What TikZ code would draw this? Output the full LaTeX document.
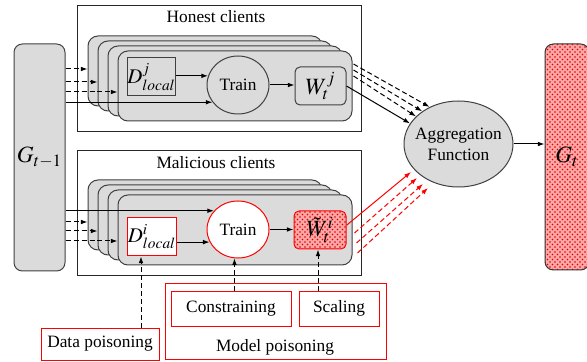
\documentclass[tikz,border=0pt]{standalone}
\usepackage{mathptmx}
\usepackage{fontspec}
\setmainfont{Liberation Serif}
\newfontfamily\tnr{Liberation Serif}
\usetikzlibrary{arrows.meta,shapes.geometric,patterns,calc}
\begin{document}
\begin{tikzpicture}[x=0.6pt,y=-0.6pt,
  every node/.style={font=\tnr\fontsize{10.4pt}{12.5pt}\selectfont},
  card/.style={draw=black!75, fill=black!14, rounded corners=6pt, minimum width=140.4pt, minimum height=42pt, inner sep=0pt, line width=0.6pt},
  group/.style={draw=black!85, line width=0.6pt, minimum width=170.4pt, inner sep=0pt},
  gbox/.style={draw=black!75, fill=black!14, line width=0.6pt, inner sep=0pt},
  rbox/.style={draw=red, line width=0.6pt, fill=white, inner sep=0pt},
  redpat/.style={preaction={fill=red!35}, pattern=crosshatch dots, pattern color=red!85!black},
  arr/.style={-{Latex[length=4pt,width=2.8pt]}, line width=0.6pt},
  dsh/.style={dash pattern=on 3pt off 1.8pt},
  bigm/.style={font=\fontsize{14pt}{16pt}\selectfont},
  midm/.style={font=\fontsize{12.5pt}{14pt}\selectfont}]
\useasboundingbox (0,0) rectangle (587,362);

% global model G_{t-1}
\node[gbox, rounded corners=5pt, minimum width=30.6pt, minimum height=136.2pt, bigm] (G) at (39.5,157.5) {$G_{t-1}$};

% honest clients
\node[group, minimum height=75.6pt] (hon) at (219,69) {};
\node (hont) at (216,17) {Honest clients};
\foreach \k in {0,...,3} \node[card] (Lh\k) at ({205+10*\k},{71+5*\k}) {};
\node[gbox, minimum width=28.2pt, minimum height=22.8pt, midm] (Dh) at (151.5,77) {$D^{j}_{local}$};
\node[gbox, ellipse, minimum width=37.2pt, minimum height=34.8pt] (Th) at (238,85) {Train};
\node[gbox, rounded corners=3pt, minimum width=30.6pt, minimum height=22.8pt, bigm] (Wh) at (320.5,86) {$W^{j}_{t}$};

% malicious clients
\node[group, minimum height=75pt] (mal) at (219,213.5) {};
\node (malt) at (216,163) {Malicious clients};
\foreach \k in {0,...,3} \node[card] (Lm\k) at ({205+10*\k},{215+5*\k}) {};
\node[rbox, minimum width=26.4pt, minimum height=22.8pt, midm] (Dm) at (152,237) {$D^{i}_{local}$};
\node[rbox, ellipse, minimum width=37.2pt, minimum height=34.2pt] (Tm) at (238,229.5) {Train};
\node[draw=red, line width=0.6pt, inner sep=0pt, rounded corners=3pt, redpat, minimum width=31.2pt, minimum height=22.8pt, bigm] (Wm) at (320,230) {$\tilde{W}^{i}_{t}$};

% aggregation and new global model
\node[gbox, ellipse, minimum width=65.4pt, minimum height=51.6pt,
  label={[align=center, font=\tnr\fontsize{10.4pt}{12.5pt}\selectfont]center:Aggregation\\Function}] (Agg) at (458.5,144) {};
\node[draw=black!80, line width=0.6pt, inner sep=0pt, rounded corners=5pt, redpat, minimum width=26.4pt, minimum height=135.6pt, bigm] (Gt) at (567,157) {$G_{t}$};

% poisoning boxes
\node[rbox, fill=none, minimum width=132.6pt, minimum height=45.6pt] (MP) at (275.5,321) {};
\node (MPt) at (275,347) {Model poisoning};
\node[rbox, minimum width=72pt, minimum height=21pt] (Con) at (231,308.5) {Constraining};
\node[rbox, minimum width=48pt, minimum height=21pt] (Sc) at (339,308.5) {Scaling};
\node[rbox, minimum width=70.8pt, minimum height=19.2pt] (Dp) at (100,344) {Data poisoning};

% helper coordinates
\coordinate (yh1) at (0,69);
\coordinate (yh2) at (0,82);
\coordinate (yh3) at (0,92);
\coordinate (ym1) at (0,222);
\coordinate (ym2) at (0,231);
\coordinate (ym3) at (0,241);
\coordinate (cx1) at (141,0);
\coordinate (cx3) at (318,0);
\coordinate (ra0) at (411,172);
\coordinate (ra1) at (417,178);
\coordinate (ra2) at (423,184);
\coordinate (ra3) at (428,188);

% G_{t-1} to honest clients
\draw[arr,dsh] (G.east |- yh1) -- (Lh0.west |- yh1);
\draw[arr,dsh] (G.east |- yh2) -- (Lh1.west |- yh2);
\draw[arr,dsh] (G.east |- yh3) -- (Lh3.west |- yh3);
\draw[arr] (G.east |- Th.214) -- (Th.214);
% inside honest client
\draw[arr] (Dh.east |- Th.163) -- (Th.163);
\draw[arr] (Th.east) -- (Th.east -| Wh.west);

% G_{t-1} to malicious clients
\draw[arr] (G.east |- Tm.142) -- (Tm.142);
\draw[arr,dsh] (G.east |- ym1) -- (Lm0.west |- ym1);
\draw[arr,dsh] (G.east |- ym2) -- (Lm1.west |- ym2);
\draw[arr,dsh] (G.east |- ym3) -- (Lm3.west |- ym3);
% inside malicious client
\draw[arr] (Dm.east |- Tm.204) -- (Tm.204);
\draw[arr] (Tm.east) -- (Tm.east -| Wm.west);

% honest updates to aggregation
\draw[arr] (Wh.east) -- (Agg.157.6);
\draw[arr,dsh] ($(Lh3.east)+(1,-22)$) -- (Agg.128.75);
\draw[arr,dsh] ($(Lh3.east)+(1,-16)$) -- (Agg.138);
\draw[arr,dsh] ($(Lh3.east)+(1,-10)$) -- (Agg.147.3);

% malicious updates to aggregation
\draw[arr,red] (Wm.10) -- (ra0);
\draw[arr,dsh,red] ($(Lm3.east)+(2,3)$) -- (ra1);
\draw[arr,dsh,red] ($(Lm3.east)+(4,13)$) -- (ra2);
\draw[arr,dsh,red] ($(Lm3.east)+(5,23)$) -- (ra3);

% aggregation to G_t
\draw[arr] (Agg.east) -- (Agg.east -| Gt.west);

% poisoning arrows
\draw[arr,dsh] (Dp.north -| cx1) -- (Dm.south -| cx1);
\draw[arr,dsh] (Con.north -| Tm.263) -- (Tm.263);
\draw[arr,dsh] (Sc.north -| cx3) -- (Wm.south -| cx3);
\end{tikzpicture}
\end{document}
